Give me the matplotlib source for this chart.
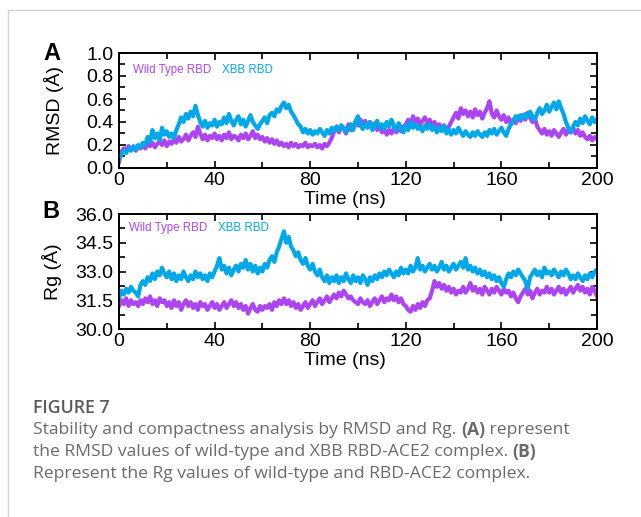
import numpy as np
import matplotlib
matplotlib.use('Agg')
import matplotlib.pyplot as plt
from matplotlib.ticker import MultipleLocator

# time axis, 1 ns steps
time_ns = np.arange(0, 201)

rmsd_wt = [
    0.05, 0.14, 0.17, 0.15, 0.19, 0.16, 0.18, 0.15, 0.19, 0.17,
    0.20, 0.17, 0.21, 0.19, 0.22, 0.18, 0.21, 0.23, 0.20, 0.24,
    0.19, 0.23, 0.21, 0.26, 0.22, 0.27, 0.23, 0.25, 0.29, 0.24,
    0.28, 0.31, 0.27, 0.36, 0.30, 0.25, 0.29, 0.24, 0.28, 0.26,
    0.30, 0.25, 0.28, 0.24, 0.29, 0.26, 0.31, 0.25, 0.28, 0.27,
    0.24, 0.29, 0.26, 0.30, 0.25, 0.28, 0.32, 0.26, 0.29, 0.25,
    0.27, 0.23, 0.26, 0.22, 0.25, 0.21, 0.24, 0.20, 0.22, 0.19,
    0.21, 0.18, 0.22, 0.19, 0.21, 0.18, 0.20, 0.19, 0.22, 0.18,
    0.20, 0.19, 0.21, 0.18, 0.20, 0.17, 0.21, 0.19, 0.22, 0.26,
    0.32, 0.36, 0.31, 0.37, 0.34, 0.30, 0.38, 0.33, 0.36, 0.40,
    0.37, 0.42, 0.38, 0.41, 0.36, 0.40, 0.35, 0.39, 0.33, 0.37,
    0.31, 0.34, 0.29, 0.33, 0.30, 0.35, 0.31, 0.34, 0.32, 0.36,
    0.38, 0.42, 0.37, 0.45, 0.40, 0.43, 0.38, 0.41, 0.44, 0.39,
    0.42, 0.37, 0.40, 0.35, 0.38, 0.34, 0.37, 0.33, 0.36, 0.40,
    0.44, 0.48, 0.43, 0.52, 0.47, 0.50, 0.45, 0.49, 0.44, 0.51,
    0.46, 0.49, 0.43, 0.48, 0.52, 0.58, 0.47, 0.44, 0.50, 0.45,
    0.42, 0.46, 0.40, 0.44, 0.38, 0.42, 0.39, 0.45, 0.41, 0.46,
    0.42, 0.48, 0.44, 0.40, 0.43, 0.36, 0.33, 0.30, 0.34, 0.29,
    0.32, 0.28, 0.33, 0.30, 0.27, 0.31, 0.34, 0.29, 0.33, 0.31,
    0.35, 0.30, 0.33, 0.28, 0.31, 0.27, 0.25, 0.28, 0.24, 0.27,
    0.25]

rmsd_xbb = [
    0.08, 0.12, 0.15, 0.13, 0.17, 0.15, 0.19, 0.16, 0.20, 0.18,
    0.22, 0.20, 0.27, 0.23, 0.33, 0.26, 0.30, 0.24, 0.35, 0.29,
    0.32, 0.27, 0.30, 0.26, 0.33, 0.38, 0.44, 0.40, 0.47, 0.43,
    0.49, 0.45, 0.54, 0.46, 0.40, 0.36, 0.41, 0.35, 0.39, 0.37,
    0.42, 0.36, 0.40, 0.38, 0.44, 0.39, 0.47, 0.41, 0.37, 0.42,
    0.45, 0.38, 0.42, 0.36, 0.41, 0.46, 0.40, 0.37, 0.34, 0.38,
    0.41, 0.44, 0.39, 0.46, 0.48, 0.45, 0.51, 0.49, 0.54, 0.57,
    0.52, 0.55, 0.49, 0.46, 0.42, 0.38, 0.36, 0.31, 0.34, 0.30,
    0.33, 0.29, 0.32, 0.30, 0.34, 0.31, 0.28, 0.33, 0.30, 0.35,
    0.32, 0.36, 0.33, 0.37, 0.35, 0.31, 0.34, 0.38, 0.33, 0.41,
    0.45, 0.37, 0.34, 0.39, 0.35, 0.40, 0.33, 0.37, 0.41, 0.35,
    0.38, 0.34, 0.40, 0.36, 0.42, 0.37, 0.33, 0.39, 0.35, 0.31,
    0.37, 0.33, 0.40, 0.35, 0.38, 0.34, 0.36, 0.32, 0.37, 0.34,
    0.38, 0.33, 0.36, 0.31, 0.35, 0.32, 0.37, 0.30, 0.34, 0.29,
    0.33, 0.30, 0.35, 0.31, 0.28, 0.32, 0.29, 0.27, 0.31, 0.28,
    0.32, 0.29, 0.27, 0.31, 0.28, 0.33, 0.30, 0.34, 0.29, 0.32,
    0.35, 0.31, 0.28, 0.34, 0.38, 0.41, 0.45, 0.42, 0.46, 0.43,
    0.47, 0.44, 0.49, 0.45, 0.42, 0.48, 0.52, 0.47, 0.50, 0.55,
    0.49, 0.53, 0.57, 0.51, 0.58, 0.52, 0.47, 0.40, 0.35, 0.31,
    0.36, 0.40, 0.37, 0.43, 0.39, 0.45, 0.41, 0.38, 0.44, 0.40,
    0.42]

rg_wt = [
    31.2, 31.5, 31.3, 31.6, 31.2, 31.5, 31.3, 31.4, 31.2, 31.5,
    31.3, 31.6, 31.4, 31.7, 31.3, 31.5, 31.2, 31.6, 31.4, 31.5,
    31.2, 31.4, 31.1, 31.5, 31.2, 31.4, 31.0, 31.3, 31.5, 31.2,
    31.4, 31.1, 31.3, 31.0, 31.4, 31.2, 31.3, 31.0, 31.2, 31.4,
    31.1, 31.3, 31.0, 31.2, 31.4, 31.1, 31.3, 31.5, 31.2, 31.4,
    31.1, 31.3, 31.0, 31.2, 30.8, 31.1, 31.3, 31.0, 30.9, 31.2,
    31.0, 31.2, 31.1, 31.3, 31.0, 31.4, 31.2, 31.5, 31.3, 31.6,
    31.3, 31.5, 31.2, 31.4, 31.1, 31.3, 31.0, 31.2, 31.4, 31.1,
    31.3, 31.5, 31.2, 31.4, 31.6, 31.3, 31.5, 31.7, 31.4, 31.6,
    31.8, 31.6, 31.9, 31.7, 32.0, 31.8, 31.6, 31.7, 31.5, 31.4,
    31.3, 31.6, 31.4, 31.3, 31.5, 31.2, 31.4, 31.6, 31.3, 31.5,
    31.7, 31.4, 31.6, 31.5, 31.8, 31.5, 31.7, 31.4, 31.6, 31.3,
    31.2, 31.0, 30.9, 31.2, 31.0, 31.3, 31.1, 31.4, 31.2, 31.5,
    31.6, 32.0, 32.5, 32.2, 32.4, 32.1, 32.3, 32.0, 32.2, 31.9,
    32.1, 31.8, 32.0, 31.9, 32.2, 31.9, 32.1, 32.4, 32.0, 32.2,
    31.9, 32.1, 31.8, 32.2, 32.0, 31.8, 32.1, 31.9, 32.2, 32.0,
    31.8, 32.1, 31.9, 32.0, 31.7, 31.9, 31.6, 31.4, 31.7, 31.9,
    32.1, 31.8, 32.0, 31.6, 31.9, 32.1, 31.8, 32.0, 31.9, 32.2,
    31.9, 32.1, 31.8, 32.0, 32.2, 31.9, 32.1, 31.8, 32.0, 32.2,
    31.9, 32.1, 32.3, 32.0, 32.2, 31.9, 32.1, 31.8, 32.2, 32.0,
    31.7]

rg_xbb = [
    31.6, 32.0, 31.8, 32.1, 31.9, 32.2, 32.0, 31.9, 31.7, 32.3,
    32.5, 32.3, 32.7, 32.5, 32.9, 32.6, 33.0, 32.8, 33.2, 32.9,
    32.7, 33.0, 32.6, 32.9, 32.5, 32.8, 32.6, 33.0, 32.7, 32.5,
    32.8, 32.6, 33.0, 32.7, 32.9, 32.6, 32.8, 32.5, 32.9, 32.7,
    33.0, 33.3, 33.7, 33.1, 33.3, 32.9, 33.2, 32.8, 33.1, 33.3,
    33.0, 33.4, 33.2, 33.6, 33.1, 33.4, 33.0, 33.3, 32.9, 33.2,
    33.0, 33.4, 33.2, 33.6, 33.8, 33.5, 34.0, 34.3, 34.7, 35.1,
    34.5, 34.8, 34.3, 34.1, 33.8, 34.0, 33.6, 33.4, 33.7, 33.3,
    33.1, 33.4, 33.0, 32.8, 33.1, 32.7, 32.5, 32.8, 32.4, 32.7,
    32.5, 32.8, 32.4, 32.7, 32.5, 32.9, 32.6, 32.4, 32.8, 32.5,
    32.7, 32.4, 32.8, 32.6, 32.3, 32.7, 32.5, 32.8, 32.6, 32.9,
    32.7, 33.0, 32.8, 33.1, 32.9, 32.7, 33.0, 32.8, 33.2, 32.9,
    33.1, 32.9, 33.3, 33.0, 33.2, 33.7, 33.1, 33.3, 33.0, 33.2,
    33.4, 33.1, 33.3, 33.0, 33.2, 33.5, 33.1, 33.3, 33.0, 33.2,
    33.4, 33.1, 33.3, 33.5, 33.2, 33.7, 33.1, 33.3, 33.0, 33.2,
    32.9, 33.1, 32.8, 33.0, 32.7, 32.9, 32.6, 32.8, 32.5, 32.7,
    32.4, 32.2, 32.6, 32.9, 32.7, 33.0, 32.8, 33.1, 32.9, 32.7,
    32.5, 32.1, 32.7, 32.9, 33.1, 32.8, 33.0, 32.7, 33.2, 32.9,
    33.0, 32.8, 33.1, 32.9, 32.7, 33.0, 32.8, 33.1, 32.9, 32.6,
    32.8, 32.6, 32.9, 32.7, 32.5, 32.8, 32.6, 32.9, 32.7, 33.0,
    33.1]

series_names = ['Wild Type RBD', 'XBB RBD']
colors = ['#AD44F2', '#00A8EA']

caption_title = 'FIGURE 7'
caption_lines = [
    [('Stability and compactness analysis by RMSD and Rg. ', 'normal'),
     ('(A)', 'bold'), (' represent', 'normal')],
    [('the RMSD values of wild-type and XBB RBD-ACE2 complex. ', 'normal'),
     ('(B)', 'bold')],
    [('Represent the Rg values of wild-type and RBD-ACE2 complex.', 'normal')],
]

plt.rcParams['font.family'] = ['Liberation Sans', 'DejaVu Sans']

fig = plt.figure(figsize=(6.41, 5.17), dpi=100)
W, H = 641, 517
FS = 14


def px_axes(left, top, right, bottom):
    return fig.add_axes([left / W, 1 - bottom / H, (right - left) / W, (bottom - top) / H])


def style_axes(ax, ymin, ymax, ymaj, ymin_step):
    ax.set_xlim(0, 200)
    ax.set_ylim(ymin, ymax)
    ax.xaxis.set_major_locator(MultipleLocator(40))
    ax.xaxis.set_minor_locator(MultipleLocator(20))
    ax.yaxis.set_major_locator(MultipleLocator(ymaj))
    ax.yaxis.set_minor_locator(MultipleLocator(ymin_step))
    ax.yaxis.set_major_formatter(lambda v, p: f'{v:.1f}')
    ax.tick_params(which='both', direction='in', top=True, right=True, width=1.2)
    ax.tick_params(which='major', length=5, labelsize=FS)
    ax.tick_params(which='minor', length=4)
    ax.tick_params(axis='x', which='major', pad=3)
    ax.tick_params(axis='y', which='major', pad=4)
    for s in ax.spines.values():
        s.set_linewidth(1.4)


# panel A
ax1 = px_axes(119, 53, 597, 168)
ax1.plot(time_ns, rmsd_wt, color=colors[0], lw=3)
ax1.plot(time_ns, rmsd_xbb, color=colors[1], lw=3)
style_axes(ax1, 0, 1.0, 0.2, 0.1)
ax1.set_xlabel('Time (ns)', fontsize=FS)
ax1.xaxis.set_label_coords(0.473, -0.2)
ax1.set_ylabel('RMSD (Å)', fontsize=FS)
ax1.yaxis.set_label_coords(-0.115, 0.5)
ax1.text(0.029, 0.85, series_names[0], color=colors[0], fontsize=8.3, transform=ax1.transAxes, va='center')
ax1.text(0.215, 0.85, series_names[1], color=colors[1], fontsize=8.3, transform=ax1.transAxes, va='center')

# panel B
ax2 = px_axes(119, 214, 597, 329)
ax2.plot(time_ns, rg_wt, color=colors[0], lw=3)
ax2.plot(time_ns, rg_xbb, color=colors[1], lw=3)
style_axes(ax2, 30.0, 36.0, 1.5, 0.75)
ax2.set_xlabel('Time (ns)', fontsize=FS)
ax2.xaxis.set_label_coords(0.473, -0.2)
ax2.set_ylabel('Rg (Å)', fontsize=FS)
ax2.yaxis.set_label_coords(-0.12, 0.5)
ax2.text(0.021, 0.875, series_names[0], color=colors[0], fontsize=8.3, transform=ax2.transAxes, va='center')
ax2.text(0.207, 0.875, series_names[1], color=colors[1], fontsize=8.3, transform=ax2.transAxes, va='center')

fig.text(52 / W, 1 - 53 / H, 'A', fontsize=17, fontweight='bold', ha='center', va='center')
fig.text(51 / W, 1 - 212 / H, 'B', fontsize=17, fontweight='bold', ha='center', va='center')

# frame lines of the page
fig.add_artist(plt.Line2D([8 / W, 8 / W], [0, 1 - 10 / H], color='#d4d4d4', lw=1))
fig.add_artist(plt.Line2D([8 / W, 1], [1 - 10 / H, 1 - 10 / H], color='#d4d4d4', lw=1))

# caption
cap_font = ['Open Sans', 'DejaVu Sans']
fig.text(33 / W, 1 - 408 / H, caption_title, fontsize=12.8, family=cap_font,
         color='#5a5a5a', fontweight='semibold', va='center')
renderer = fig.canvas.get_renderer()
for i, line in enumerate(caption_lines):
    x = 33
    y = 1 - (430 + 22 * i) / H
    for txt, wt in line:
        t = fig.text(x / W, y, txt, fontsize=12.6, family=cap_font, color='#6a6a6a',
                     fontweight=wt, va='center')
        bb = t.get_window_extent(renderer)
        x += bb.width

fig.savefig('out.png', dpi=100)
